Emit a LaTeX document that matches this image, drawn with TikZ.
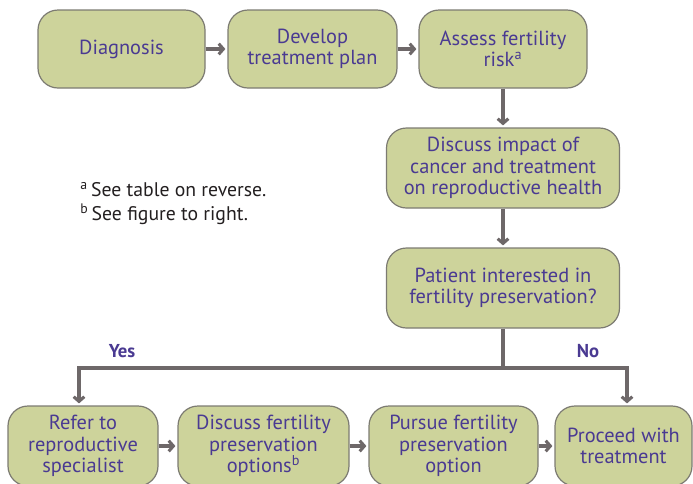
\documentclass[tikz,border=0pt]{standalone}
\usepackage{fontspec}
\setmainfont{PT Sans}
\usetikzlibrary{arrows.meta}
\definecolor{boxfill}{HTML}{CDD39B}
\definecolor{boxline}{HTML}{7C7B72}
\definecolor{txtpurple}{HTML}{4A3A92}
\definecolor{arrgray}{HTML}{6E6869}
\definecolor{notetext}{HTML}{231F20}
\begin{document}
\begin{tikzpicture}[x=0.75pt,y=-0.75pt,
  stepbox/.style={draw=boxline, line width=0.9pt, fill=boxfill, rounded corners=15pt,
    text=txtpurple, align=center, font=\fontsize{15.3}{16}\selectfont,
    minimum height=58.5pt, inner sep=1pt},
  conn/.style={draw=arrgray, line width=2.3pt},
  arr/.style={conn, -{Straight Barb[length=3.5pt,width=8pt]}, shorten >=1.5pt},
  lab/.style={text=txtpurple, font=\bfseries\fontsize{14}{16}\selectfont},
  note/.style={text=notetext, font=\fontsize{14.8}{16}\selectfont, anchor=west, inner sep=0pt}]
\useasboundingbox (0,0) rectangle (693,483);
\clip (0,0) rectangle (693,483);

\node[stepbox, minimum width=125.25pt] (diag) at (121.5,49) {Diagnosis};
\node[stepbox, minimum width=126.75pt] (dev) at (312.5,49) {Develop\\treatment plan};
\node[stepbox, minimum width=126pt] (assess) at (503,49) {Assess fertility\\risk\textsuperscript{a}};
\node[stepbox, minimum width=174.75pt, minimum height=60pt] (impact) at (503,168) {Discuss impact of\\cancer and treatment\\on reproductive health};
\node[stepbox, minimum width=174.75pt, minimum height=60pt] (patient) at (503,288) {Patient interested in\\fertility preservation?};

\node[stepbox, minimum width=112.5pt, minimum height=60pt] (refer) at (83,446) {Refer to\\reproductive\\specialist};
\node[stepbox, minimum width=128.25pt, minimum height=60pt] (discuss) at (263.5,446) {Discuss fertility\\preservation\\options\textsuperscript{b}};
\node[stepbox, minimum width=126.75pt, minimum height=60pt] (pursue) at (453.5,446) {Pursue fertility\\preservation\\option};
\node[stepbox, minimum width=102.75pt, minimum height=60pt] (proceed) at (623.5,446) {Proceed with\\treatment};

\node[note] (n1) at (80,190) {\textsuperscript{a}\,See table on reverse.};
\node[note] (n2) at (80,214) {\textsuperscript{b}\,See figure to right.};

\node[lab] (yes) at (122,351) {Yes};
\node[lab] (no) at (588,351) {No};

\coordinate (j) at (503,368);
\coordinate (yl) at (79,368);
\coordinate (nr) at (627,368);

\draw[arr] (diag.east) -- (dev.west);
\draw[arr] (dev.east) -- (assess.west);
\draw[arr] (assess.south) -- (impact.north);
\draw[arr] (impact.south) -- (patient.north);
\draw[conn] (patient.south) -- (j);
\draw[arr] (j) -- (yl) -- (yl |- refer.north);
\draw[arr] (j) -- (nr) -- (nr |- proceed.north);
\draw[arr] (refer.east) -- (discuss.west);
\draw[arr] (discuss.east) -- (pursue.west);
\draw[arr] (pursue.east) -- (proceed.west);
\end{tikzpicture}
\end{document}
